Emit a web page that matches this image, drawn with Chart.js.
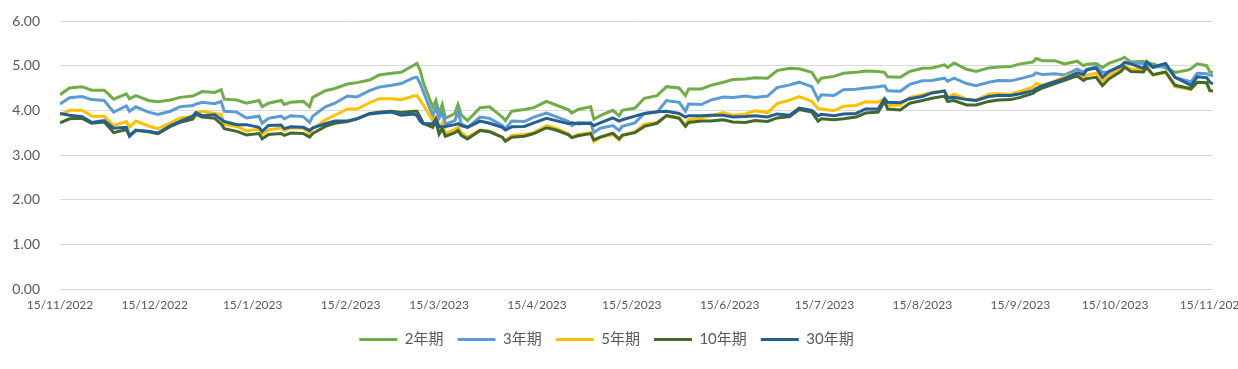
<!DOCTYPE html>
<html>
<head>
<meta charset="utf-8">
<title>Yield curve history</title>
<script src="https://cdn.jsdelivr.net/npm/chart.js@4.4.0/dist/chart.umd.min.js"></script>
<style>
    html, body { margin: 0; padding: 0; background: #ffffff; }
    #yieldChart { display: block; }
</style>
</head>
<body>
<canvas id="yieldChart" width="1238" height="369"></canvas>
<script>
const dates = [
    '2022-11-15', '2022-11-18', '2022-11-22', '2022-11-25', '2022-11-29',
    '2022-12-02', '2022-12-06', '2022-12-07', '2022-12-09', '2022-12-13', '2022-12-16', '2022-12-20', '2022-12-23', '2022-12-27', '2022-12-28', '2022-12-30',
    '2023-01-03', '2023-01-05', '2023-01-06', '2023-01-10', '2023-01-13', '2023-01-17', '2023-01-18', '2023-01-20', '2023-01-24', '2023-01-25', '2023-01-27', '2023-01-31',
    '2023-02-02', '2023-02-03', '2023-02-07', '2023-02-10', '2023-02-14', '2023-02-17', '2023-02-21', '2023-02-24', '2023-02-28',
    '2023-03-03', '2023-03-07', '2023-03-08', '2023-03-09', '2023-03-10', '2023-03-13', '2023-03-14', '2023-03-15', '2023-03-16', '2023-03-17', '2023-03-20', '2023-03-21', '2023-03-22', '2023-03-24', '2023-03-28', '2023-03-31',
    '2023-04-04', '2023-04-05', '2023-04-07', '2023-04-11', '2023-04-14', '2023-04-18', '2023-04-21', '2023-04-25', '2023-04-26', '2023-04-28',
    '2023-05-02', '2023-05-03', '2023-05-05', '2023-05-09', '2023-05-11', '2023-05-12', '2023-05-16', '2023-05-19', '2023-05-23', '2023-05-26', '2023-05-30',
    '2023-06-01', '2023-06-02', '2023-06-06', '2023-06-09', '2023-06-13', '2023-06-16', '2023-06-20', '2023-06-23', '2023-06-27', '2023-06-30',
    '2023-07-04', '2023-07-07', '2023-07-11', '2023-07-13', '2023-07-14', '2023-07-18', '2023-07-21', '2023-07-25', '2023-07-28',
    '2023-08-01', '2023-08-03', '2023-08-04', '2023-08-08', '2023-08-11', '2023-08-15', '2023-08-18', '2023-08-22', '2023-08-23', '2023-08-25', '2023-08-29',
    '2023-09-01', '2023-09-05', '2023-09-08', '2023-09-12', '2023-09-15', '2023-09-19', '2023-09-20', '2023-09-22', '2023-09-26', '2023-09-29',
    '2023-10-03', '2023-10-05', '2023-10-06', '2023-10-09', '2023-10-11', '2023-10-13', '2023-10-17', '2023-10-18', '2023-10-20', '2023-10-24', '2023-10-25', '2023-10-27', '2023-10-31',
    '2023-11-03', '2023-11-07', '2023-11-08', '2023-11-10', '2023-11-13', '2023-11-14', '2023-11-15'
];

const yield2y = [
    4.35, 4.50, 4.53, 4.45, 4.45,
    4.25, 4.37, 4.26, 4.33, 4.22, 4.19, 4.23, 4.29, 4.32, 4.35, 4.42,
    4.40, 4.46, 4.25, 4.23, 4.16, 4.22, 4.08, 4.16, 4.22, 4.13, 4.18, 4.20,
    4.08, 4.29, 4.44, 4.49, 4.59, 4.62, 4.68, 4.79, 4.83,
    4.85, 5.01, 5.05, 4.90, 4.62, 4.07, 4.22, 3.93, 4.13, 3.82, 3.93, 4.13, 3.90, 3.77, 4.06, 4.08,
    3.85, 3.77, 3.98, 4.02, 4.06, 4.20, 4.12, 4.01, 3.94, 4.02,
    4.08, 3.80, 3.88, 4.00, 3.88, 4.00, 4.05, 4.27, 4.33, 4.53, 4.50,
    4.33, 4.48, 4.48, 4.56, 4.63, 4.69, 4.70, 4.73, 4.72, 4.89,
    4.94, 4.93, 4.85, 4.63, 4.72, 4.76, 4.83, 4.85, 4.88,
    4.87, 4.85, 4.75, 4.74, 4.87, 4.94, 4.95, 5.02, 4.96, 5.06, 4.92,
    4.87, 4.95, 4.97, 4.98, 5.04, 5.08, 5.16, 5.11, 5.11, 5.04,
    5.10, 5.00, 5.03, 5.05, 4.96, 5.05, 5.15, 5.19, 5.08, 5.10, 5.06, 5.04, 4.95,
    4.85, 4.90, 4.93, 5.04, 5.00, 4.86, 4.85
];

const yield3y = [
    4.14, 4.28, 4.31, 4.24, 4.22,
    3.96, 4.10, 3.98, 4.08, 3.96, 3.91, 3.98, 4.08, 4.11, 4.14, 4.18,
    4.15, 4.20, 3.98, 3.96, 3.83, 3.87, 3.71, 3.82, 3.87, 3.81, 3.88, 3.86,
    3.73, 3.87, 4.08, 4.16, 4.32, 4.30, 4.44, 4.52, 4.56,
    4.60, 4.73, 4.74, 4.60, 4.42, 3.88, 4.07, 3.82, 3.96, 3.69, 3.77, 3.98, 3.70, 3.62, 3.85, 3.82,
    3.66, 3.59, 3.76, 3.75, 3.85, 3.94, 3.86, 3.75, 3.66, 3.73,
    3.72, 3.50, 3.60, 3.66, 3.55, 3.64, 3.72, 3.93, 3.96, 4.22, 4.18,
    3.98, 4.14, 4.13, 4.23, 4.30, 4.29, 4.32, 4.29, 4.32, 4.51,
    4.57, 4.63, 4.53, 4.24, 4.35, 4.33, 4.46, 4.47, 4.50,
    4.53, 4.55, 4.44, 4.43, 4.58, 4.66, 4.67, 4.72, 4.65, 4.72, 4.60,
    4.55, 4.63, 4.67, 4.66, 4.71, 4.78, 4.84, 4.80, 4.82, 4.79,
    4.92, 4.85, 4.92, 4.98, 4.85, 4.86, 4.98, 5.08, 5.06, 5.05, 5.05, 4.96, 5.00,
    4.73, 4.66, 4.63, 4.83, 4.82, 4.79, 4.78
];

const yield5y = [
    3.90, 4.00, 4.00, 3.87, 3.87,
    3.66, 3.75, 3.62, 3.76, 3.65, 3.59, 3.72, 3.83, 3.86, 3.95, 3.98,
    3.93, 3.91, 3.68, 3.64, 3.54, 3.58, 3.46, 3.56, 3.61, 3.55, 3.61, 3.60,
    3.49, 3.58, 3.79, 3.89, 4.03, 4.03, 4.17, 4.26, 4.26,
    4.24, 4.32, 4.33, 4.22, 4.12, 3.77, 3.85, 3.60, 3.71, 3.49, 3.57, 3.62, 3.50, 3.40, 3.56, 3.53,
    3.40, 3.32, 3.44, 3.46, 3.50, 3.66, 3.60, 3.47, 3.40, 3.46,
    3.50, 3.30, 3.39, 3.46, 3.34, 3.44, 3.52, 3.69, 3.73, 3.88, 3.84,
    3.66, 3.79, 3.83, 3.88, 3.95, 3.89, 3.92, 3.99, 3.95, 4.15,
    4.23, 4.31, 4.20, 4.04, 4.03, 3.99, 4.09, 4.11, 4.19,
    4.18, 4.26, 4.11, 4.12, 4.29, 4.35, 4.40, 4.44, 4.29, 4.36, 4.25,
    4.23, 4.36, 4.37, 4.36, 4.43, 4.52, 4.60, 4.56, 4.66, 4.75,
    4.84, 4.73, 4.79, 4.83, 4.65, 4.79, 4.92, 4.99, 4.92, 4.92, 4.93, 4.79, 4.85,
    4.53, 4.48, 4.46, 4.63, 4.62, 4.44, 4.43
];

const yield10y = [
    3.72, 3.81, 3.82, 3.71, 3.74,
    3.50, 3.57, 3.44, 3.56, 3.52, 3.48, 3.64, 3.73, 3.80, 3.91, 3.85,
    3.82, 3.70, 3.59, 3.53, 3.45, 3.48, 3.36, 3.46, 3.48, 3.44, 3.49, 3.48,
    3.40, 3.48, 3.64, 3.71, 3.75, 3.81, 3.93, 3.96, 3.98,
    3.95, 3.98, 3.98, 3.85, 3.71, 3.62, 3.75, 3.47, 3.59, 3.42, 3.50, 3.55, 3.44, 3.36, 3.55, 3.52,
    3.40, 3.31, 3.40, 3.42, 3.48, 3.61, 3.56, 3.45, 3.39, 3.43,
    3.48, 3.34, 3.40, 3.49, 3.36, 3.44, 3.50, 3.64, 3.71, 3.88, 3.82,
    3.64, 3.73, 3.76, 3.76, 3.79, 3.74, 3.73, 3.77, 3.75, 3.83,
    3.86, 4.02, 3.96, 3.76, 3.81, 3.79, 3.81, 3.85, 3.94,
    3.96, 4.20, 4.03, 4.01, 4.16, 4.22, 4.27, 4.32, 4.20, 4.22, 4.12,
    4.12, 4.20, 4.23, 4.24, 4.29, 4.38, 4.43, 4.50, 4.60, 4.67,
    4.77, 4.67, 4.71, 4.74, 4.55, 4.70, 4.88, 4.97, 4.87, 4.86, 4.97, 4.80, 4.86,
    4.56, 4.50, 4.48, 4.63, 4.62, 4.44, 4.43
];

const yield30y = [
    3.93, 3.89, 3.86, 3.73, 3.77,
    3.60, 3.62, 3.42, 3.55, 3.53, 3.49, 3.66, 3.75, 3.87, 3.95, 3.88,
    3.90, 3.80, 3.75, 3.68, 3.68, 3.62, 3.53, 3.66, 3.67, 3.59, 3.63, 3.62,
    3.55, 3.61, 3.70, 3.76, 3.76, 3.81, 3.92, 3.94, 3.96,
    3.89, 3.92, 3.88, 3.76, 3.70, 3.70, 3.81, 3.63, 3.63, 3.64, 3.68, 3.70, 3.66, 3.62, 3.76, 3.71,
    3.62, 3.56, 3.63, 3.64, 3.72, 3.82, 3.77, 3.70, 3.72, 3.70,
    3.71, 3.66, 3.72, 3.83, 3.76, 3.79, 3.87, 3.93, 3.97, 3.98, 3.93,
    3.85, 3.88, 3.88, 3.89, 3.89, 3.85, 3.86, 3.88, 3.85, 3.92,
    3.89, 4.05, 4.00, 3.88, 3.91, 3.88, 3.92, 3.93, 4.03,
    4.03, 4.26, 4.18, 4.17, 4.26, 4.31, 4.39, 4.43, 4.28, 4.29, 4.24,
    4.22, 4.31, 4.33, 4.33, 4.37, 4.44, 4.49, 4.55, 4.64, 4.71,
    4.84, 4.80, 4.90, 4.95, 4.74, 4.87, 5.00, 5.07, 5.04, 4.94, 5.09, 4.97, 5.05,
    4.74, 4.60, 4.55, 4.75, 4.73, 4.63, 4.59
];

const tickDates = [
    '2022-11-15', '2022-12-15', '2023-01-15', '2023-02-15', '2023-03-15', '2023-04-15', '2023-05-15',
    '2023-06-15', '2023-07-15', '2023-08-15', '2023-09-15', '2023-10-15', '2023-11-15'
];

const seriesNames = ['2年期', '3年期', '5年期', '10年期', '30年期'];
const yTicks = [0, 1, 2, 3, 4, 5, 6];

document.addEventListener('DOMContentLoaded', () => {
    const colors = {
        green: '#70ad47',
        blue: '#5b9bd5',
        gold: '#ffc000',
        darkGreen: '#43682b',
        navy: '#255e91',
        grid: '#d9d9d9',
        text: '#595959'
    };
    const fontFamily = "Lato, 'Noto Sans CJK TC', 'Noto Sans CJK SC', sans-serif";

    const startMs = Date.parse(dates[0]);
    function dayOffset(iso) {
        return Math.round((Date.parse(iso) - startMs) / 86400000);
    }

    function formatTick(iso) {
        const [y, m, d] = iso.split('-');
        return `${Number(d)}/${Number(m)}/${y}`;
    }

    const tickLabelByDay = {};
    tickDates.forEach((iso) => { tickLabelByDay[dayOffset(iso)] = formatTick(iso); });

    const seriesValues = [yield2y, yield3y, yield5y, yield10y, yield30y];
    const seriesColors = [colors.green, colors.blue, colors.gold, colors.darkGreen, colors.navy];

    // later series sit on top, like the source workbook
    const datasets = seriesNames.map((name, i) => ({
        label: name,
        data: dates.map((iso, j) => ({ x: dayOffset(iso), y: seriesValues[i][j] })),
        borderColor: seriesColors[i],
        backgroundColor: seriesColors[i],
        borderWidth: 3,
        pointRadius: 0,
        tension: 0,
        order: seriesNames.length - 1 - i
    }));

    const ctx = document.getElementById('yieldChart');
    new Chart(ctx.getContext('2d'), {
        type: 'line',
        data: { datasets },
        options: {
            responsive: false,
            animation: false,
            devicePixelRatio: 1,
            layout: { padding: { top: 21, right: 25, bottom: 12, left: 0 } },
            plugins: {
                tooltip: { enabled: false },
                legend: {
                    position: 'bottom',
                    labels: {
                        usePointStyle: true,
                        pointStyle: 'line',
                        pointStyleWidth: 38,
                        boxHeight: 15,
                        padding: 14,
                        color: colors.text,
                        font: { family: fontFamily, size: 15 },
                        sort: (a, b) => a.datasetIndex - b.datasetIndex
                    }
                }
            },
            scales: {
                x: {
                    type: 'linear',
                    min: dayOffset(tickDates[0]),
                    max: dayOffset(tickDates[tickDates.length - 1]),
                    grid: { display: false, drawTicks: false },
                    border: { display: false },
                    afterBuildTicks: (scale) => {
                        scale.ticks = tickDates.map((iso) => ({ value: dayOffset(iso) }));
                    },
                    afterFit: (scale) => {
                        scale.height = 29;
                        scale.paddingLeft = 0;
                        scale.paddingRight = 0;
                    },
                    ticks: {
                        autoSkip: false,
                        maxRotation: 0,
                        padding: 9,
                        color: colors.text,
                        font: { family: fontFamily, size: 12 },
                        callback: (value) => tickLabelByDay[value] || ''
                    }
                },
                y: {
                    min: yTicks[0],
                    max: yTicks[yTicks.length - 1],
                    grid: { color: colors.grid, lineWidth: 1, drawTicks: false },
                    border: { display: false },
                    afterBuildTicks: (scale) => {
                        scale.ticks = yTicks.map((v) => ({ value: v }));
                    },
                    afterFit: (scale) => {
                        scale.width = 60;
                        scale.paddingTop = 0;
                        scale.paddingBottom = 0;
                    },
                    ticks: {
                        padding: 20,
                        color: colors.text,
                        font: { family: fontFamily, size: 14 },
                        callback: (value) => Number(value).toFixed(2)
                    }
                }
            }
        }
    });
});
</script>
</body>
</html>
